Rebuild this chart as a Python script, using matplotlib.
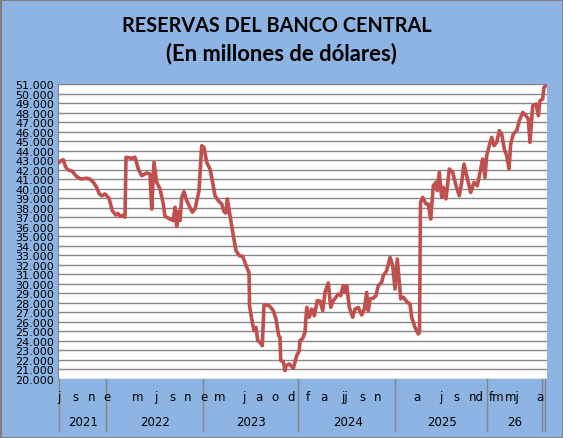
import numpy as np
import matplotlib
matplotlib.use("Agg")
import matplotlib.pyplot as plt
import matplotlib.transforms as mtransforms

# posicion en el eje de categorias (0-489) y reservas en millones de USD
pos = [0.3, 2.5, 5.3, 7.5, 9.7, 14.3, 18.7, 23.0, 28.7, 32.0, 35.3, 38.7, 41.3, 44.0,
       47.0, 51.0, 54.3, 57.7, 60.0, 62.0, 65.0, 67.0, 68.0, 73.7, 77.0, 80.3, 83.7,
       88.7, 92.0, 93.7, 96.0, 98.7, 102.0, 105.3, 107.0, 112.0, 115.3, 117.0, 118.7,
       120.3, 122.0, 123.7, 126.0, 128.7, 134.3, 137.0, 141.0, 143.7, 146.0, 148.7,
       152.0, 153.7, 157.0, 160.3, 163.7, 166.0, 168.0, 169.3, 172.0, 175.3, 178.0,
       181.3, 184.7, 188.7, 191.0, 191.5, 193.7, 196.0, 198.0, 199.7, 202.0, 204.3,
       206.0, 211.3, 215.3, 218.0, 220.7, 222.0, 222.7, 225.3, 227.0, 228.0, 231.3,
       235.3, 238.7, 241.3, 242.0, 244.7, 247.0, 248.7, 251.3, 253.7, 256.3, 259.3,
       262.0, 264.7, 267.0, 270.3, 272.7, 275.3, 278.0, 280.3, 282.7, 285.3, 287.0,
       288.7, 291.3, 294.7, 297.0, 300.3, 303.7, 306.3, 308.7, 310.3, 312.0, 315.3,
       318.0, 320.3, 323.7, 325.3, 328.7, 332.0, 334.7, 337.0, 339.3, 342.7, 345.3,
       349.3, 352.0, 353.7, 357.0, 360.3, 361.5, 362.5, 364.7, 368.0, 370.3, 372.7,
       375.3, 378.0, 379.3, 381.3, 383.7, 385.3, 388.0, 391.3, 394.7, 398.0, 401.3,
       403.7, 406.0, 408.7, 412.7, 416.0, 419.3, 422.0, 424.7, 427.0, 428.7, 431.3,
       433.7, 436.0, 438.7, 441.3, 443.7, 446.3, 448.7, 451.0, 452.7, 455.3, 458.7,
       461.3, 464.7, 468.0, 470.3, 472.0, 474.7, 478.0, 480.3, 482.0, 484.7, 486.0,
       488.0]

reservas = [42700, 42900, 43040, 42300, 42000, 41830, 41260, 41020, 41100, 41000,
            40670, 40140, 39440, 39250, 39450, 38990, 37690, 37230, 37400, 37100,
            37200, 37000, 43300, 43190, 43300, 42070, 41360, 41650, 41540, 37860,
            42770, 40670, 39970, 38390, 37100, 36810, 36640, 38050, 36050, 37600,
            36640, 39090, 39680, 38740, 37520, 37860, 39790, 44520, 44350, 42770,
            42070, 41190, 39260, 38740, 38390, 37580, 37440, 38920, 37160, 35060,
            33480, 32960, 32890, 31740, 31210, 27700, 26300, 25070, 25430, 24030,
            23860, 23500, 27810, 27700, 27180, 26300, 24550, 24380, 21930, 21830,
            20880, 21400, 21580, 21120, 22450, 22970, 24030, 24270, 24900, 27530,
            26480, 27350, 26650, 28230, 28200, 27180, 29110, 30090, 27530, 28230,
            28590, 28930, 28760, 29810, 29100, 29810, 27530, 26480, 27350, 27530,
            26730, 27350, 29110, 27180, 28420, 28500, 28760, 29810, 30160, 30860,
            31380, 32790, 31900, 29460, 32610, 28420, 28590, 28060, 27880, 26480,
            25430, 24730, 24900, 38570, 39090, 38390, 38390, 36810, 40310, 40670,
            39790, 41720, 39090, 40140, 38920, 42070, 41720, 40310, 39260, 40670,
            42590, 41360, 39600, 40670, 40310, 41720, 43120, 41190, 43470, 44520,
            45400, 44520, 44870, 46100, 45750, 44170, 43470, 42070, 44700, 45750,
            46100, 47140, 48020, 47670, 47320, 44870, 48720, 48900, 47670, 49250,
            49420, 50650, 50820]

# etiquetas del eje x
meses = ["j", "s", "n", "e", "m", "j", "s", "n", "e", "m", "j", "a", "o", "d",
         "f", "a", "jj", "s", "n", "a", "j", "s", "nd", "fm", "mj", "a"]
meses_pos = [0.5, 17.4, 33.6, 48.6, 80.0, 97.5, 114.4, 129.8, 145.6, 161.7, 185.4,
             201.2, 217.4, 233.2, 249.7, 266.2, 286.7, 304.7, 320.0, 359.2, 383.0,
             398.4, 418.1, 438.2, 454.7, 481.7]
anios = ["2021", "2022", "2023", "2024", "2025", "26"]
anios_pos = [24.6, 97.5, 193.3, 289.6, 383.7, 456.2]
cortes = [0.5, 48.3, 145.2, 240.4, 337.3, 428.5, 483.5, 487.0]

fondo = "#8DB4E2"
rojo = "#C0504D"

fig = plt.figure(figsize=(5.63, 4.39), dpi=100)
fig.patch.set_facecolor(fondo)
fig.patch.set_edgecolor("#7F7F7F")
fig.patch.set_linewidth(2)

ax = fig.add_axes([58/563, 59/439, 489/563, 295/439])
ax.set_facecolor("white")
ax.plot(pos, reservas, color=rojo, lw=2.6, solid_joinstyle="round", zorder=3)

ax.set_xlim(0, 489)
ax.set_ylim(20000, 51000)
yt = np.arange(20000, 51001, 1000)
ax.set_yticks(yt)
ax.set_yticklabels([f"{v:,}".replace(",", ".") for v in yt], fontsize=8,
                   family="DejaVu Sans")
ax.tick_params(axis="y", length=0, pad=3)
ax.set_xticks([])
ax.grid(axis="y", color="#868686", lw=1)
ax.set_axisbelow(True)
for s in ax.spines.values():
    s.set_visible(False)
ax.spines["left"].set_visible(True)
ax.spines["left"].set_color("#868686")

trans = mtransforms.blended_transform_factory(ax.transData, ax.transAxes)
for c in cortes:
    ax.plot([c, c], [0, -52/295], transform=trans, color="#868686", lw=1,
            clip_on=False)
for m, p in zip(meses, meses_pos):
    ax.text(p, -18/295, m, transform=trans, ha="center", va="center",
            fontsize=8.5, family="DejaVu Sans")
for a, p in zip(anios, anios_pos):
    ax.text(p, -43/295, a, transform=trans, ha="center", va="center",
            fontsize=8.5, family="DejaVu Sans")

fig.text(277/563, 1 - 26/439, "RESERVAS DEL BANCO CENTRAL", ha="center",
         va="center", fontsize=14.3, fontweight="bold", family="Lato")
fig.text(281/563, 1 - 54/439, "(En millones de dólares)", ha="center",
         va="center", fontsize=15.8, fontweight="bold", family="Lato")

fig.savefig("out.png", dpi=100, facecolor=fondo, edgecolor="#7F7F7F")
